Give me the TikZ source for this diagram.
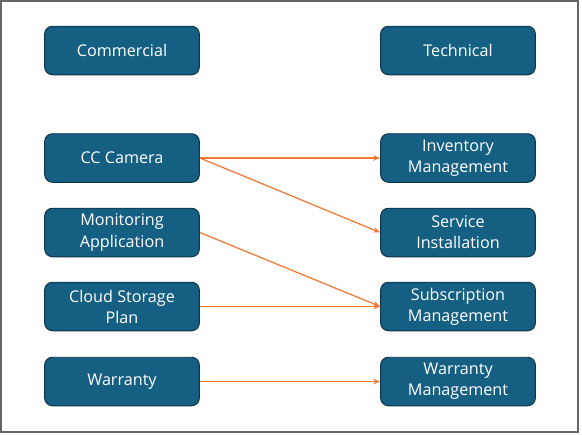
\documentclass[tikz,border=0pt]{standalone}
\usepackage{fontspec}
\setmainfont{Open Sans}
\usepackage{tikz}
\usetikzlibrary{arrows.meta}

\definecolor{boxblue}{HTML}{156082}
\definecolor{boxedge}{HTML}{0B3245}
\definecolor{linkorange}{HTML}{EE7A36}

\tikzset{
  item/.style={draw=boxedge, line width=0.7pt, fill=boxblue, rounded corners=5.5pt,
    minimum width=110pt, minimum height=34.5pt, align=center, text=white,
    font=\fontsize{11.5}{15}\selectfont, inner sep=1pt},
  link/.style={draw=linkorange, line width=0.9pt, -{Stealth[length=5pt,width=4pt]}}
}

\begin{document}
\begin{tikzpicture}[x=0.025cm, y=-0.025cm]
    % Frame
    \useasboundingbox (0,0) rectangle (582,434);
    \draw[gray!80!black, line width=0.9pt] (1,1) rectangle (578,432);

    % Commercial side
    \node[item] (com) at (122,50.5) {Commercial};
    \node[item] (cam) at (122,158) {CC Camera};
    \node[item] (app) at (122,232.5) {Monitoring\\Application};
    \node[item] (cloud) at (122,306.5) {Cloud Storage\\Plan};
    \node[item] (war) at (122,381.5) {Warranty};

    % Technical side
    \node[item] (tech) at (458,50.5) {Technical};
    \node[item] (inv) at (458,158) {Inventory\\Management};
    \node[item] (inst) at (458,232.5) {Service\\Installation};
    \node[item] (sub) at (458,306.5) {Subscription\\Management};
    \node[item] (warm) at (458,381.5) {Warranty\\Management};

    % Links
    \draw[link] (cam.east) -- (inv.west);
    \draw[link] (cam.east) -- (inst.west);
    \draw[link] (app.east) -- (sub.west);
    \draw[link] (cloud.east) -- (sub.west);
    \draw[link] (war.east) -- (warm.west);
\end{tikzpicture}
\end{document}
